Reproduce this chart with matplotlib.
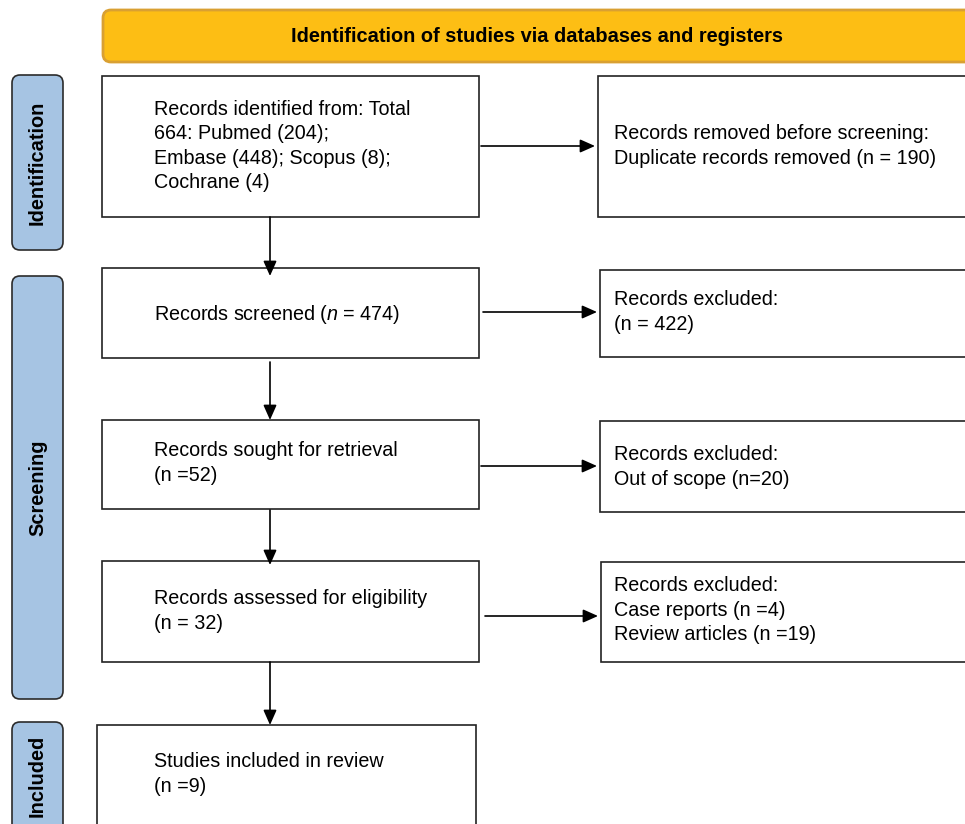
import matplotlib.pyplot as plt
from matplotlib.patches import FancyBboxPatch, Rectangle

plt.rcParams['font.family'] = ['Liberation Sans', 'DejaVu Sans']
plt.rcParams['mathtext.fontset'] = 'custom'
plt.rcParams['mathtext.it'] = 'Liberation Sans:italic'
plt.rcParams['mathtext.rm'] = 'Liberation Sans'

header = 'Identification of studies via databases and registers'
phases = ['Identification', 'Screening', 'Included']
left_texts = [
    'Records identified from: Total\n664: Pubmed (204);\nEmbase (448); Scopus (8);\nCochrane (4)',
    'Records screened ($\\it{n}$ = 474)',
    'Records sought for retrieval\n(n =52)',
    'Records assessed for eligibility\n(n = 32)',
    'Studies included in review\n(n =9)',
]
right_texts = [
    'Records removed before screening:\nDuplicate records removed (n = 190)',
    'Records excluded:\n(n = 422)',
    'Records excluded:\nOut of scope (n=20)',
    'Records excluded:\nCase reports (n =4)\nReview articles (n =19)',
]

# layout in pixels (x0, y0, x1, y1)
phase_boxes = [(12, 75, 63, 250), (12, 276, 63, 699), (12, 722, 63, 840)]
left_boxes = [(102, 76, 479, 217), (102, 268, 479, 358), (102, 420, 479, 509),
              (102, 561, 479, 662), (97, 725, 476, 840)]
right_boxes = [(598, 76, 975, 217), (600, 270, 975, 357), (600, 421, 975, 512),
               (601, 562, 975, 662)]
h_arrows = [(481, 595, 146), (483, 597, 312), (481, 597, 466), (485, 598, 616)]
v_arrows = [(217, 276), (362, 420), (510, 565), (662, 725)]
fs = 14.2

fig = plt.figure(figsize=(9.65, 8.24), dpi=100)
ax = fig.add_axes([0, 0, 1, 1])
ax.set_xlim(0, 965)
ax.set_ylim(824, 0)
ax.axis('off')

ax.add_patch(FancyBboxPatch((103, 10), 900, 52, boxstyle='round,pad=0,rounding_size=8',
                            fc='#FDBE14', ec='#D9A032', lw=2))
ax.text(537, 36, header, ha='center', va='center', fontsize=14.4, fontweight='bold')

for (x0, y0, x1, y1), name in zip(phase_boxes, phases):
    ax.add_patch(FancyBboxPatch((x0, y0), x1 - x0, y1 - y0, boxstyle='round,pad=0,rounding_size=8',
                                fc='#A6C4E3', ec='#2B2B2B', lw=1.2))
    ax.text((x0 + x1) / 2, (y0 + y1) / 2 if y1 < 824 else 776, name, rotation=90,
            ha='center', va='center', fontsize=14.4, fontweight='bold')

for (x0, y0, x1, y1) in left_boxes + right_boxes:
    ax.add_patch(Rectangle((x0, y0), x1 - x0, y1 - y0, fc='white', ec='#222222', lw=1.2))


def put(x, first_line_y, t):
    n = t.count('\n')
    ax.text(x, first_line_y + 12 * n, t, ha='left', va='center', fontsize=fs,
            linespacing=1.35)


for t, ty in zip(left_texts, [110, 314, 451, 599, 762]):
    put(154, ty, t)
for t, ty in zip(right_texts, [134, 300, 455, 586]):
    put(614, ty, t)

for xa, xb, y in h_arrows:
    ax.annotate('', xy=(xb, y), xytext=(xa, y),
                arrowprops=dict(arrowstyle='-|>,head_length=0.9,head_width=0.4', color='black',
                                lw=1.2, shrinkA=0, shrinkB=0))
for ya, yb in v_arrows:
    ax.annotate('', xy=(270, yb), xytext=(270, ya),
                arrowprops=dict(arrowstyle='-|>,head_length=0.9,head_width=0.4', color='black',
                                lw=1.2, shrinkA=0, shrinkB=0))

fig.savefig('out.png', dpi=100)
